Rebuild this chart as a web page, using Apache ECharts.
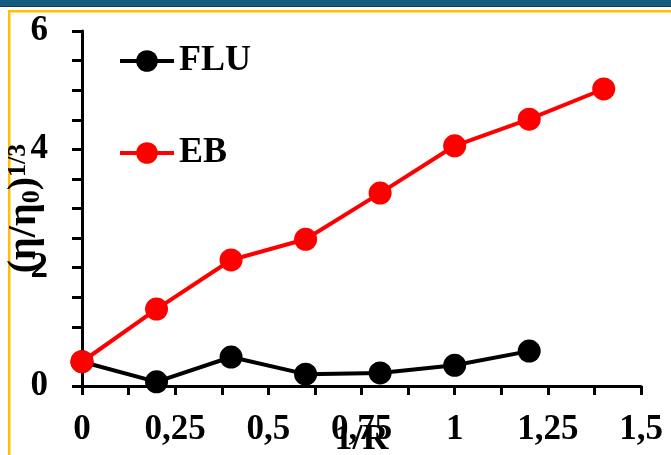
<!DOCTYPE html>
<html>
<head>
<meta charset="utf-8">
<script src="https://cdn.jsdelivr.net/npm/echarts@6/dist/echarts.min.js"></script>
<style>
html,body{margin:0;padding:0;background:#fff;}
#c{width:671px;height:455px;}
</style>
</head>
<body>
<div id="c"></div>
<script>
var xValues = [0, 0.2, 0.4, 0.6, 0.8, 1.0, 1.2, 1.4];
var fluValues = [0.41, 0.07, 0.49, 0.20, 0.22, 0.35, 0.59];
var ebValues = [0.41, 1.30, 2.13, 2.48, 3.26, 4.06, 4.51, 5.02];
var seriesNames = ['FLU', 'EB'];
var xTicks = [0, 0.25, 0.5, 0.75, 1, 1.25, 1.5];
var yTicks = [0, 2, 4, 6];

function pairs(xs, ys) {
  return ys.map(function (v, i) { return [xs[i], v]; });
}

var font = 'Liberation Serif';
var chart = echarts.init(document.getElementById('c'), null, {renderer: 'canvas'});
chart.setOption({
  animation: false,
  backgroundColor: '#ffffff',
  graphic: [
    {type: 'rect', shape: {x: 0, y: 0, width: 671, height: 7}, style: {fill: '#175c80'}, silent: true},
    {type: 'rect', shape: {x: 0, y: 6, width: 671, height: 1}, style: {fill: '#0e3d57'}, silent: true},
    {type: 'rect', shape: {x: 8, y: 10, width: 663, height: 2.5}, style: {fill: '#ffc000'}, silent: true},
    {type: 'rect', shape: {x: 8, y: 10, width: 2.5, height: 445}, style: {fill: '#ffc000'}, silent: true}
  ],
  legend: {
    orient: 'vertical',
    left: 118,
    top: 43,
    padding: 0,
    itemWidth: 54,
    itemHeight: 27,
    itemGap: 56,
    selectedMode: false,
    data: seriesNames,
    lineStyle: {width: 4},
    textStyle: {fontFamily: font, fontWeight: 'bold', fontSize: 36, color: '#000', padding: [0, 0, 0, 0]}
  },
  grid: {left: 82, right: 30, top: 31, bottom: 69, containLabel: false, outerBoundsMode: 'none'},
  xAxis: {
    type: 'value',
    min: 0, max: 1.5, interval: 0.25,
    name: '1/R',
    nameLocation: 'middle',
    nameGap: 36,
    nameMoveOverlap: false,
    nameTextStyle: {fontFamily: font, fontWeight: 'bold', fontSize: 36, color: '#000'},
    axisLine: {show: true, lineStyle: {color: '#000', width: 3}},
    axisTick: {show: true, length: 9, lineStyle: {color: '#000', width: 3}},
    minorTick: {show: true, splitNumber: 2, length: 9, lineStyle: {color: '#000', width: 3}},
    splitLine: {show: false},
    axisLabel: {
      margin: 26,
      fontFamily: font, fontWeight: 'bold', fontSize: 35, color: '#000',
      formatter: function (v) {
        var t = xTicks.find(function (k) { return Math.abs(k - v) < 1e-9; });
        return t === undefined ? '' : String(t).replace('.', ',');
      }
    }
  },
  yAxis: {
    type: 'value',
    min: 0, max: 6, interval: 2,
    name: '{a|(η/η}{s|0}{a|)}{p|1/3}',
    nameLocation: 'middle',
    nameGap: 37,
    nameRotate: 90,
    nameMoveOverlap: false,
    nameTextStyle: {
      color: '#000',
      rich: {
        a: {fontFamily: font, fontWeight: 'bold', fontSize: 40, lineHeight: 40, color: '#000'},
        s: {fontFamily: font, fontWeight: 'bold', fontSize: 26, lineHeight: 12, verticalAlign: 'bottom', color: '#000'},
        p: {fontFamily: font, fontWeight: 'bold', fontSize: 26, lineHeight: 12, verticalAlign: 'top', color: '#000'}
      }
    },
    axisLine: {show: true, lineStyle: {color: '#000', width: 3}},
    axisTick: {show: true, length: 10, lineStyle: {color: '#000', width: 3}},
    minorTick: {show: true, splitNumber: 4, length: 10, lineStyle: {color: '#000', width: 3}},
    splitLine: {show: false},
    axisLabel: {
      margin: 34,
      fontFamily: font, fontWeight: 'bold', fontSize: 35, color: '#000',
      formatter: function (v) { return yTicks.indexOf(v) >= 0 ? String(v) : ''; }
    }
  },
  series: [
    {
      name: seriesNames[0],
      type: 'line',
      data: pairs(xValues, fluValues),
      symbol: 'circle',
      symbolSize: 23,
      lineStyle: {color: '#000', width: 4},
      itemStyle: {color: '#000'},
      z: 2
    },
    {
      name: seriesNames[1],
      type: 'line',
      data: pairs(xValues, ebValues),
      symbol: 'circle',
      symbolSize: 23,
      lineStyle: {color: '#ff0000', width: 4},
      itemStyle: {color: '#ff0000'},
      z: 3
    }
  ]
});
</script>
</body>
</html>
